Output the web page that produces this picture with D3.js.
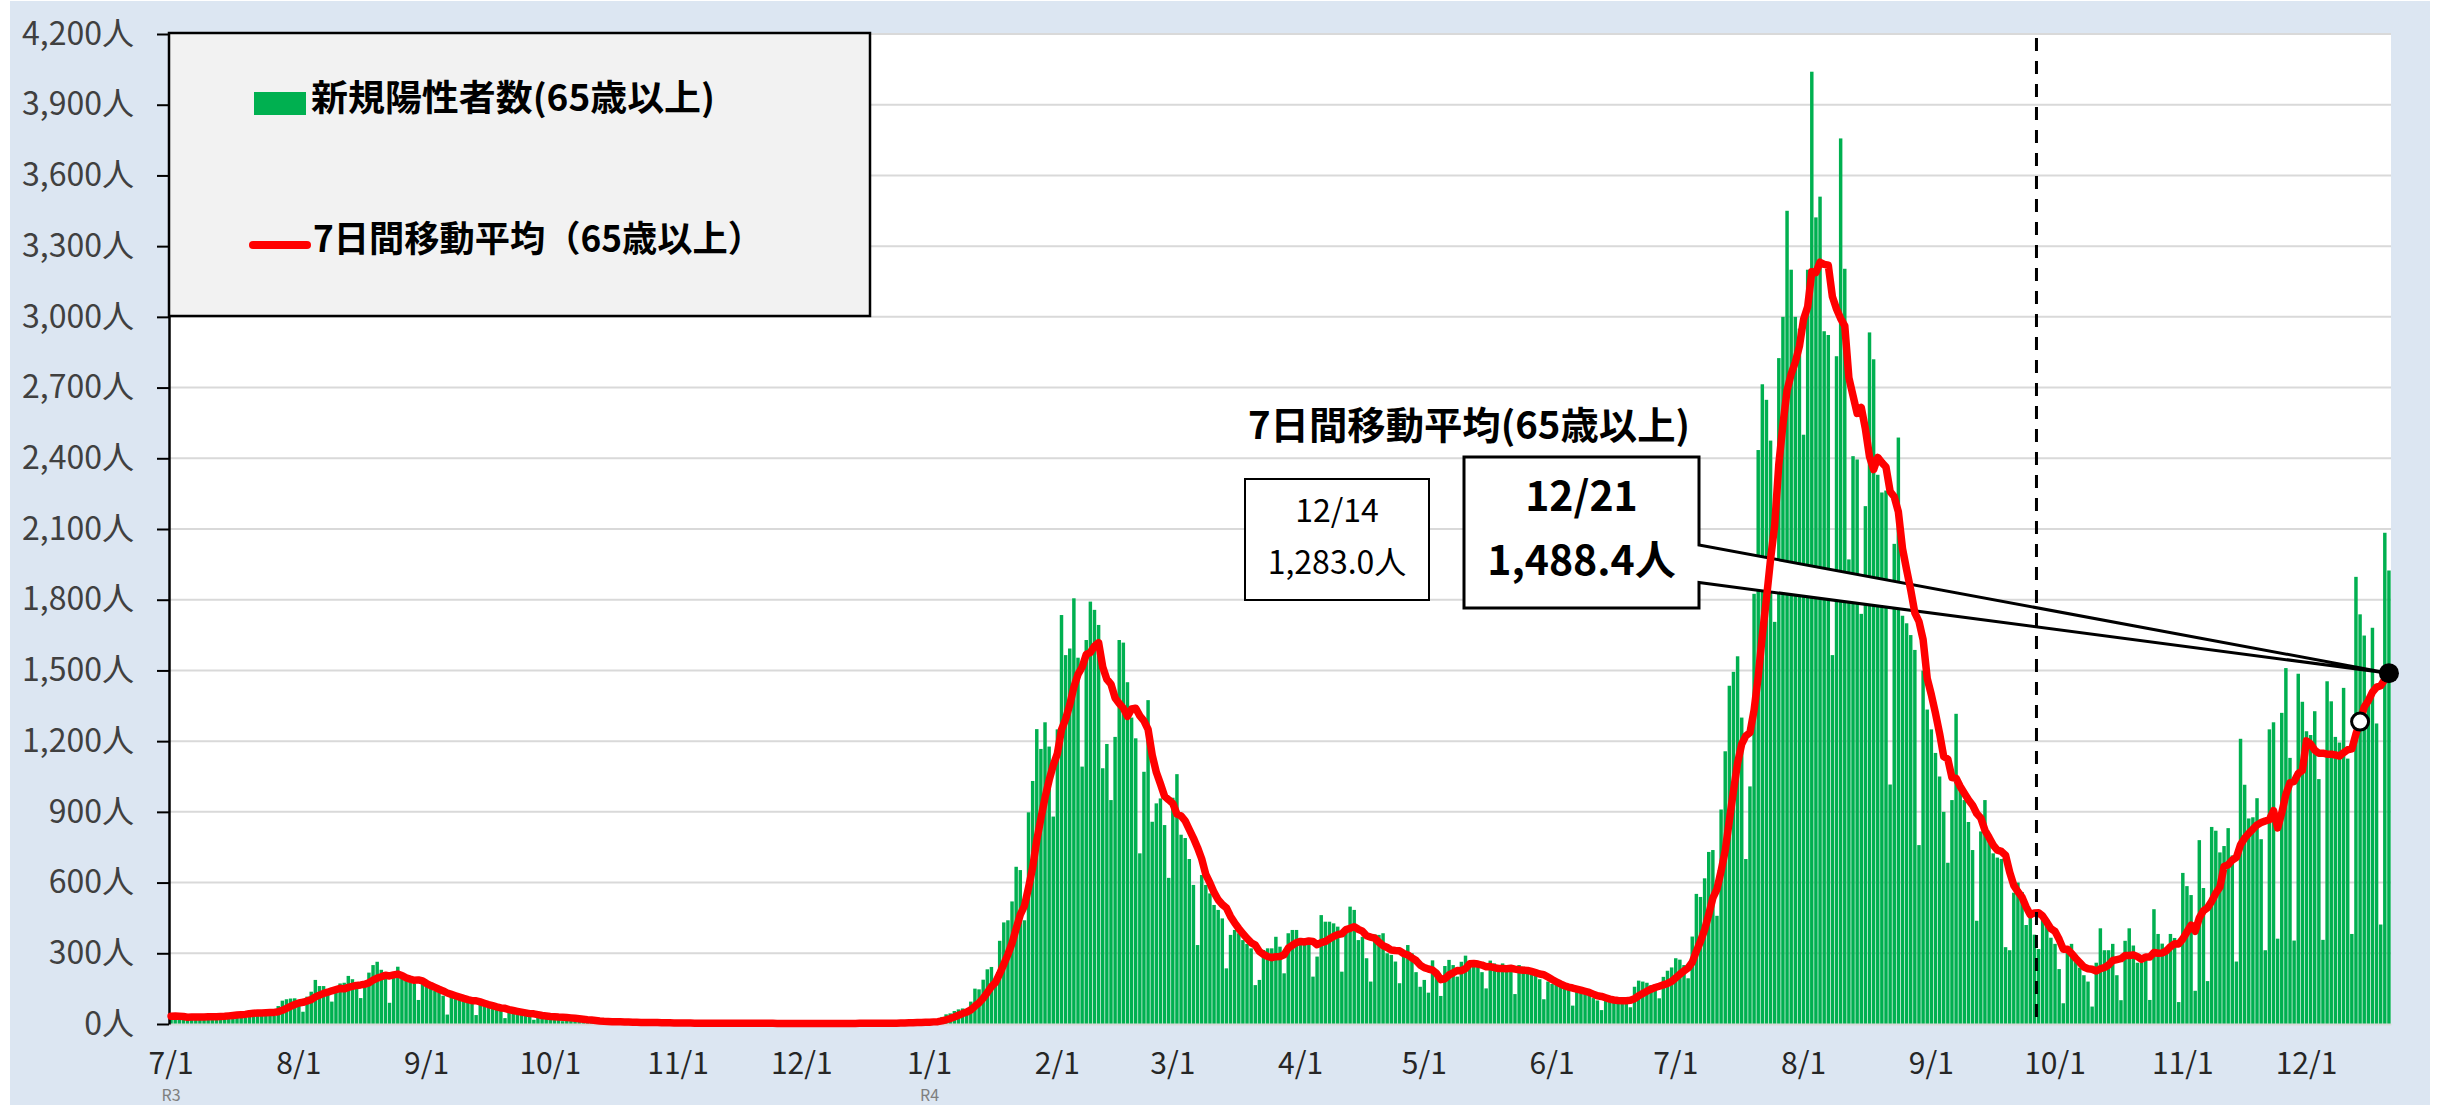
<!DOCTYPE html>
<html><head><meta charset="utf-8">
<script src="https://cdn.jsdelivr.net/npm/d3@7"></script>
<style>
html,body{margin:0;padding:0;background:#fff;}
svg{display:block;}
text{font-family:'Noto Sans CJK JP','Noto Sans',sans-serif;}
</style></head><body>
<svg id="chart" width="2443" height="1105"></svg>
<script>
// ---------- DATA ----------
const startDate = new Date(2021, 6, 1);   // 2021-07-01 (Thu)
const endDate   = new Date(2022, 11, 21); // 2022-12-21 (Wed)

// daily new positives aged 65+ (one row = one week, Thu..Wed)
const dailyCases = [
  33,34,31,28,18,32,34,
  33,34,34,31,20,37,41,
  44,46,47,43,28,58,56,
  47,50,52,48,34,76,99,
  105,108,109,95,52,116,137,
  187,161,161,130,95,150,172,
  175,204,190,160,110,170,218,
  250,264,230,205,90,200,243,
  210,195,190,170,102,170,165,
  150,140,135,120,40,130,125,
  110,100,98,90,38,95,85,
  72,68,62,58,25,55,60,
  48,44,40,36,18,32,34,
  33,31,30,27,12,24,25,
  20,16,15,12,5,11,12,
  11,10,9,8,3,7,8,
  8,7,7,6,2,6,6,
  5,5,4,5,1,4,4,
  4,3,4,3,1,3,3,
  3,4,3,3,1,3,4,
  4,3,3,2,1,3,3,
  3,2,3,2,0,2,2,
  2,3,2,2,1,2,3,
  3,2,3,3,1,3,4,
  4,3,3,3,1,3,4,
  5,6,7,6,3,7,8,
  9,10,12,14,10,30,41,
  45,55,62,66,55,95,150,
  147,188,232,242,183,353,431,
  440,520,667,653,440,898,1031,
  1251,1167,1280,1177,880,1250,1735,
  1565,1593,1806,1554,1092,1629,1792,
  1757,1693,1085,1188,950,1218,1629,
  1618,1450,1300,1212,724,1070,1374,
  858,936,957,844,620,960,1060,
  803,789,700,590,335,632,590,
  554,505,484,448,236,378,399,
  385,356,340,321,165,187,314,
  321,321,370,328,215,385,399,
  399,356,356,356,201,286,462,
  434,434,427,413,222,413,498,
  484,356,370,279,180,380,378,
  385,300,293,265,173,300,335,
  300,220,158,187,133,270,230,
  119,246,272,250,201,264,290,
  265,255,255,220,151,269,257,
  240,257,250,230,127,250,243,
  235,225,215,190,105,180,170,
  170,160,160,150,78,150,140,
  135,125,110,100,59,110,100,
  110,108,105,100,71,158,184,
  180,175,165,150,109,200,226,
  240,279,273,250,194,371,552,
  539,618,730,738,459,910,1157,
  1435,1494,1560,1300,700,1008,1825,
  2435,2714,2648,2475,1706,2825,3000,
  3450,3200,3000,2950,2500,3200,4040,
  3422,3510,2939,2923,1565,2833,3757,
  3204,1971,2409,2395,1740,2197,2934,
  2820,2330,2255,2263,1016,2037,2488,
  1732,1700,1650,1587,759,1499,1334,
  1250,1150,1050,900,684,950,1316,
  1003,950,857,738,438,817,950,
  790,724,706,700,326,313,557,
  600,560,420,470,379,318,459,
  419,366,340,233,88,313,340,
  273,239,207,180,74,260,406,
  313,313,340,207,101,353,406,
  333,260,260,276,102,487,382,
  341,325,382,365,93,641,585,
  547,141,780,577,182,836,820,
  728,755,831,715,265,1210,1015,
  872,877,958,784,313,1250,1280,
  362,1320,1510,1129,354,1486,1367,
  1242,1226,1327,1039,357,1454,1369,
  1218,1194,1426,1126,382,1897,1738,
  1648,1385,1681,1275,422,2084,1924
];

const yTickValues = [0,300,600,900,1200,1500,1800,2100,2400,2700,3000,3300,3600,3900,4200];
const monthTickDates  = ["2021-07-01","2021-08-01","2021-09-01","2021-10-01","2021-11-01","2021-12-01",
                         "2022-01-01","2022-02-01","2022-03-01","2022-04-01","2022-05-01","2022-06-01",
                         "2022-07-01","2022-08-01","2022-09-01","2022-10-01","2022-11-01","2022-12-01"];
const monthTickLabels = ["7/1","8/1","9/1","10/1","11/1","12/1","1/1","2/1","3/1","4/1","5/1","6/1",
                         "7/1","8/1","9/1","10/1","11/1","12/1"];
const eraDates  = ["2021-07-01","2022-01-01"];
const eraLabels = ["R3","R4"];
const dividerDate = "2022-09-26";
const prevMarkDate = "2022-12-14", prevMarkLabel = "12/14";
const lastMarkDate = "2022-12-21", lastMarkLabel = "12/21";
const legendLabels = ["新規陽性者数(65歳以上)", "7日間移動平均（65歳以上）"];
const calloutTitle = "7日間移動平均(65歳以上)";

// ---------- SETUP ----------
const days = d3.timeDay.range(startDate, d3.timeDay.offset(endDate, 1));
const fmtKey = d3.timeFormat("%Y-%m-%d");
const idxOf = s => days.findIndex(d => fmtKey(d) === s);
const n = days.length;

// 7-day trailing moving average of the daily counts
const ma7 = dailyCases.map((v, i) => {
  const s = dailyCases.slice(Math.max(0, i - 6), i + 1);
  return d3.sum(s) / s.length;
});

const W = 2443, H = 1105;
const L = 169, R = 2391, T = 34, B = 1024;
const GREEN = "#00b050", RED = "#ff0000";
const LATIN = "'Liberation Sans',Arial,sans-serif";

const svg = d3.select("#chart");
svg.append("rect").attr("width", W).attr("height", H).attr("fill", "#ffffff");
svg.append("rect").attr("x", 10).attr("y", 1).attr("width", 2420).attr("height", H).attr("fill", "#dce6f2");
svg.append("rect").attr("x", L).attr("y", T - 1).attr("width", R - L).attr("height", B - T + 1).attr("fill", "#ffffff");

const x = d3.scaleBand().domain(d3.range(n)).range([L, R]).paddingInner(0.16).paddingOuter(0.08);
const y = d3.scaleLinear().domain([0, 4200]).range([B, T]);
const cx = i => x(i) + x.bandwidth() / 2;

// gridlines
svg.append("g").selectAll("line").data(yTickValues.filter(v => v > 0)).join("line")
  .attr("x1", L).attr("x2", R).attr("y1", d => y(d)).attr("y2", d => y(d))
  .attr("stroke", "#d9d9d9").attr("stroke-width", 2);

// bars
svg.append("g").selectAll("rect").data(dailyCases).join("rect")
  .attr("x", (d, i) => x(i)).attr("width", x.bandwidth())
  .attr("y", d => y(d)).attr("height", d => B - y(d))
  .attr("fill", GREEN);

// x axis
const tickIdx = monthTickDates.map(idxOf);
const gx = svg.append("g").attr("transform", `translate(0,${B})`)
  .call(d3.axisBottom(x).tickValues(tickIdx).tickFormat((d, i) => monthTickLabels[i])
        .tickSize(0).tickSizeOuter(0).tickPadding(29));
gx.select(".domain").attr("stroke", "#d9d9d9").attr("stroke-width", 2);
gx.selectAll("text").attr("font-size", 30).attr("fill", "#262626").attr("font-family", LATIN);

// era labels
svg.append("g").selectAll("text").data(eraDates).join("text")
  .attr("x", d => cx(idxOf(d))).attr("y", 1101).attr("text-anchor", "middle")
  .attr("font-family", LATIN).attr("font-size", 16).attr("fill", "#7f7f7f").text((d, i) => eraLabels[i]);

// y axis
const gy = svg.append("g").attr("transform", `translate(${L},0)`)
  .call(d3.axisLeft(y).tickValues(yTickValues).tickSize(12).tickSizeOuter(0).tickPadding(23)
        .tickFormat(d => d3.format(",")(d) + "人"));
gy.select(".domain").attr("stroke", "#000").attr("stroke-width", 2.5);
gy.selectAll(".tick line").attr("stroke", "#000").attr("stroke-width", 2);
gy.selectAll("text").attr("font-size", 32).attr("fill", "#404040").attr("font-family", "'Noto Sans CJK JP',sans-serif");

// legend
svg.append("rect").attr("x", L).attr("y", T - 1).attr("width", 701).attr("height", 283)
  .attr("fill", "#f2f2f2").attr("stroke", "#000").attr("stroke-width", 2.5);
svg.append("rect").attr("x", 254).attr("y", 92).attr("width", 52).attr("height", 23).attr("fill", GREEN);
svg.append("text").attr("x", 311).attr("y", 111).attr("font-size", 36).attr("font-weight", 700)
  .attr("textLength", 404).attr("lengthAdjust", "spacingAndGlyphs").attr("fill", "#000").text(legendLabels[0]);
svg.append("line").attr("x1", 253).attr("x2", 307).attr("y1", 245).attr("y2", 245)
  .attr("stroke", RED).attr("stroke-width", 8).attr("stroke-linecap", "round");
svg.append("text").attr("x", 313).attr("y", 252).attr("font-size", 36).attr("font-weight", 700)
  .attr("textLength", 450).attr("lengthAdjust", "spacingAndGlyphs").attr("fill", "#000").text(legendLabels[1]);

// callout (box + pointer) to last MA point
const lastI = idxOf(lastMarkDate), prevI = idxOf(prevMarkDate);
const px = cx(lastI), py = y(ma7[lastI]);
const bx0 = 1464, bx1 = 1699, by0 = 457, by1 = 608;
svg.append("path")
  .attr("d", `M${bx0},${by0}H${bx1}V545L${px},${py}L${bx1},582.5V${by1}H${bx0}Z`)
  .attr("fill", "#fff").attr("stroke", "#000").attr("stroke-width", 3).attr("stroke-linejoin", "miter");

// moving average line
svg.append("path").datum(ma7)
  .attr("d", d3.line().x((d, i) => cx(i)).y(d => y(d)))
  .attr("fill", "none").attr("stroke", RED).attr("stroke-width", 7.5)
  .attr("stroke-linejoin", "round").attr("stroke-linecap", "round");

// divider dashed line
const dI = idxOf(dividerDate);
const dX = x(dI) + x.bandwidth() + (x.step() - x.bandwidth()) / 2;
svg.append("line").attr("x1", dX).attr("x2", dX).attr("y1", 38).attr("y2", 1020)
  .attr("stroke", "#000").attr("stroke-width", 3).attr("stroke-dasharray", "13,10");

// markers
svg.append("circle").attr("cx", cx(prevI)).attr("cy", y(ma7[prevI])).attr("r", 8.5)
  .attr("fill", "#fff").attr("stroke", "#000").attr("stroke-width", 3);
svg.append("circle").attr("cx", px).attr("cy", py).attr("r", 10).attr("fill", "#000");

// callout texts
svg.append("text").attr("x", 1469).attr("y", 439).attr("text-anchor", "middle")
  .attr("font-size", 38).attr("font-weight", 700).attr("textLength", 442).attr("lengthAdjust", "spacingAndGlyphs")
  .text(calloutTitle);
const f1 = d3.format(",.1f");
svg.append("text").attr("x", (bx0 + bx1) / 2).attr("y", 511).attr("text-anchor", "middle")
  .attr("font-size", 41).attr("font-weight", 700).text(lastMarkLabel);
svg.append("text").attr("x", (bx0 + bx1) / 2).attr("y", 575).attr("text-anchor", "middle")
  .attr("font-size", 41).attr("font-weight", 700).text(f1(ma7[lastI]) + "人");

svg.append("rect").attr("x", 1245).attr("y", 479).attr("width", 184).attr("height", 121)
  .attr("fill", "#fff").attr("stroke", "#000").attr("stroke-width", 2);
svg.append("text").attr("x", 1337).attr("y", 522).attr("text-anchor", "middle")
  .attr("font-size", 32).text(prevMarkLabel);
svg.append("text").attr("x", 1337).attr("y", 574).attr("text-anchor", "middle")
  .attr("font-size", 32).text(f1(ma7[prevI]) + "人");
</script>
</body></html>
